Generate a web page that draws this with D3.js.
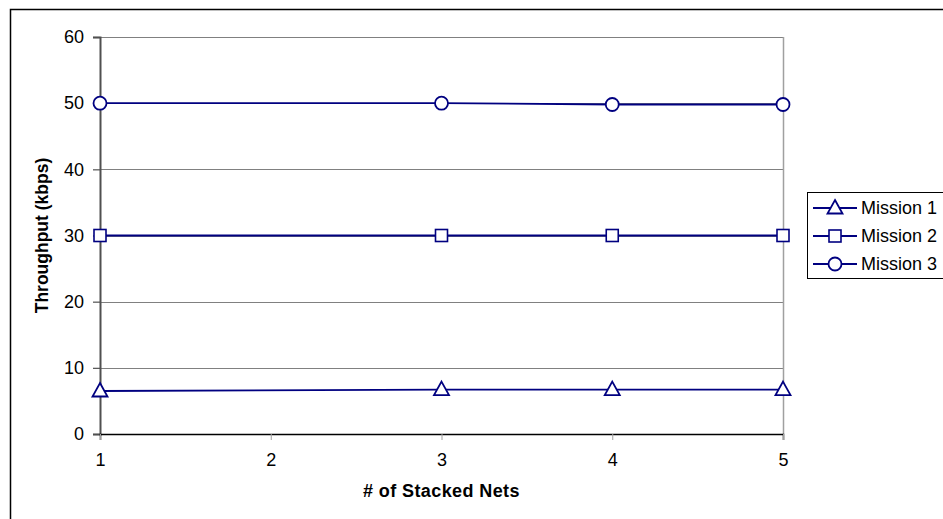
<!DOCTYPE html>
<html><head><meta charset="utf-8">
<script src="https://cdn.jsdelivr.net/npm/d3@7"></script>
<style>body{margin:0;background:#fff}svg{display:block}text{font-family:Arial,"Liberation Sans",sans-serif}</style>
</head><body>
<svg id="c" width="943" height="519"></svg>
<script>
const xValues = [1, 3, 4, 5];
const mission1 = [6.5, 6.7, 6.7, 6.7];
const mission2 = [30, 30, 30, 30];
const mission3 = [50, 50, 49.8, 49.8];
const seriesNames = ["Mission 1", "Mission 2", "Mission 3"];
const seriesShapes = ["triangle", "square", "circle"];
const xTicks = [1, 2, 3, 4, 5];
const yTicks = [0, 10, 20, 30, 40, 50, 60];

const series = [mission1, mission2, mission3].map((vals, i) => ({
  name: seriesNames[i], shape: seriesShapes[i],
  pts: vals.map((v, j) => ({x: xValues[j], y: v}))
}));

const svg = d3.select("#c");
const L = 100, R = 783, T = 37, B = 434;
const x = d3.scaleLinear().domain([1, 5]).range([L, R]);
const y = d3.scaleLinear().domain([0, 60]).range([B, T]);
const navy = "#000080";
const FS = 18;

// outer border
svg.append("rect").attr("x", 10.5).attr("y", 9.5).attr("width", 1000).attr("height", 600)
  .attr("fill", "none").attr("stroke", "#000").attr("stroke-width", 1.5);

// gridlines
svg.append("g").selectAll("line").data(yTicks.filter(d => d > 0)).join("line")
  .attr("x1", L).attr("x2", R).attr("y1", d => Math.round(y(d)) + 0.5).attr("y2", d => Math.round(y(d)) + 0.5)
  .attr("stroke", "#808080").attr("stroke-width", 1);
// right border
svg.append("line").attr("x1", R + 0.5).attr("x2", R + 0.5).attr("y1", T).attr("y2", B)
  .attr("stroke", "#a0a0a0").attr("stroke-width", 1.5);

// y axis
const yAxis = d3.axisLeft(y).tickValues(yTicks).tickSize(7).tickPadding(9);
const gy = svg.append("g").attr("transform", `translate(${L},0)`).call(yAxis);
gy.select(".domain").attr("stroke", "#505050").attr("stroke-width", 2);
gy.selectAll(".tick line").attr("stroke", "#505050").attr("stroke-width", 1.2);
gy.selectAll(".tick text").attr("font-size", FS).attr("fill", "#000").attr("font-family", "Arial, Liberation Sans, sans-serif");

// x axis
const xAxis = d3.axisBottom(x).tickValues(xTicks).tickFormat(d3.format("d")).tickSize(6).tickPadding(13);
const gx = svg.append("g").attr("transform", `translate(0,${B})`).call(xAxis);
gx.select(".domain").attr("stroke", "#000").attr("stroke-width", 1.5);
gx.selectAll(".tick line").attr("stroke", "#a0a0a0");
gx.selectAll(".tick text").attr("font-size", FS).attr("fill", "#000").attr("font-family", "Arial, Liberation Sans, sans-serif");

// titles
svg.append("text").attr("x", (L + R) / 2).attr("y", 497).attr("text-anchor", "middle")
  .attr("font-size", FS).attr("font-weight", "bold").attr("letter-spacing", 0.4).text("# of Stacked Nets");
svg.append("text").attr("transform", `translate(48,${(T + B) / 2}) rotate(-90)`).attr("text-anchor", "middle")
  .attr("font-size", 17.5).attr("font-weight", "bold").text("Throughput (kbps)");

// marker drawing
function marker(g, shape, cx, cy) {
  if (shape === "circle") {
    g.append("circle").attr("cx", cx).attr("cy", cy).attr("r", 6.5)
      .attr("fill", "#fff").attr("stroke", navy).attr("stroke-width", 1.8);
  } else if (shape === "square") {
    g.append("rect").attr("x", cx - 6).attr("y", cy - 6).attr("width", 12).attr("height", 12)
      .attr("fill", "#fff").attr("stroke", navy).attr("stroke-width", 1.6);
  } else {
    g.append("path").attr("d", `M${cx},${cy - 8}L${cx + 7.5},${cy + 5.5}L${cx - 7.5},${cy + 5.5}Z`)
      .attr("fill", "#fff").attr("stroke", navy).attr("stroke-width", 1.8);
  }
}

const line = d3.line().x(d => x(d.x)).y(d => y(d.y));
series.forEach(s => {
  svg.append("path").datum(s.pts).attr("d", line).attr("fill", "none")
    .attr("stroke", navy).attr("stroke-width", 1.8);
  const g = svg.append("g");
  s.pts.forEach(p => marker(g, s.shape, x(p.x), y(p.y)));
});

// legend
svg.append("rect").attr("x", 807.5).attr("y", 192.5).attr("width", 200).attr("height", 86)
  .attr("fill", "#fff").attr("stroke", "#000").attr("stroke-width", 1);
series.forEach((s, i) => {
  const ly = 208 + i * 28;
  const g = svg.append("g");
  g.append("line").attr("x1", 813).attr("x2", 857).attr("y1", ly).attr("y2", ly)
    .attr("stroke", navy).attr("stroke-width", 1.8);
  marker(g, s.shape, 835, ly);
  g.append("text").attr("x", 861).attr("y", ly).attr("dy", "0.35em").attr("font-size", FS).text(s.name);
});
</script>
</body></html>
